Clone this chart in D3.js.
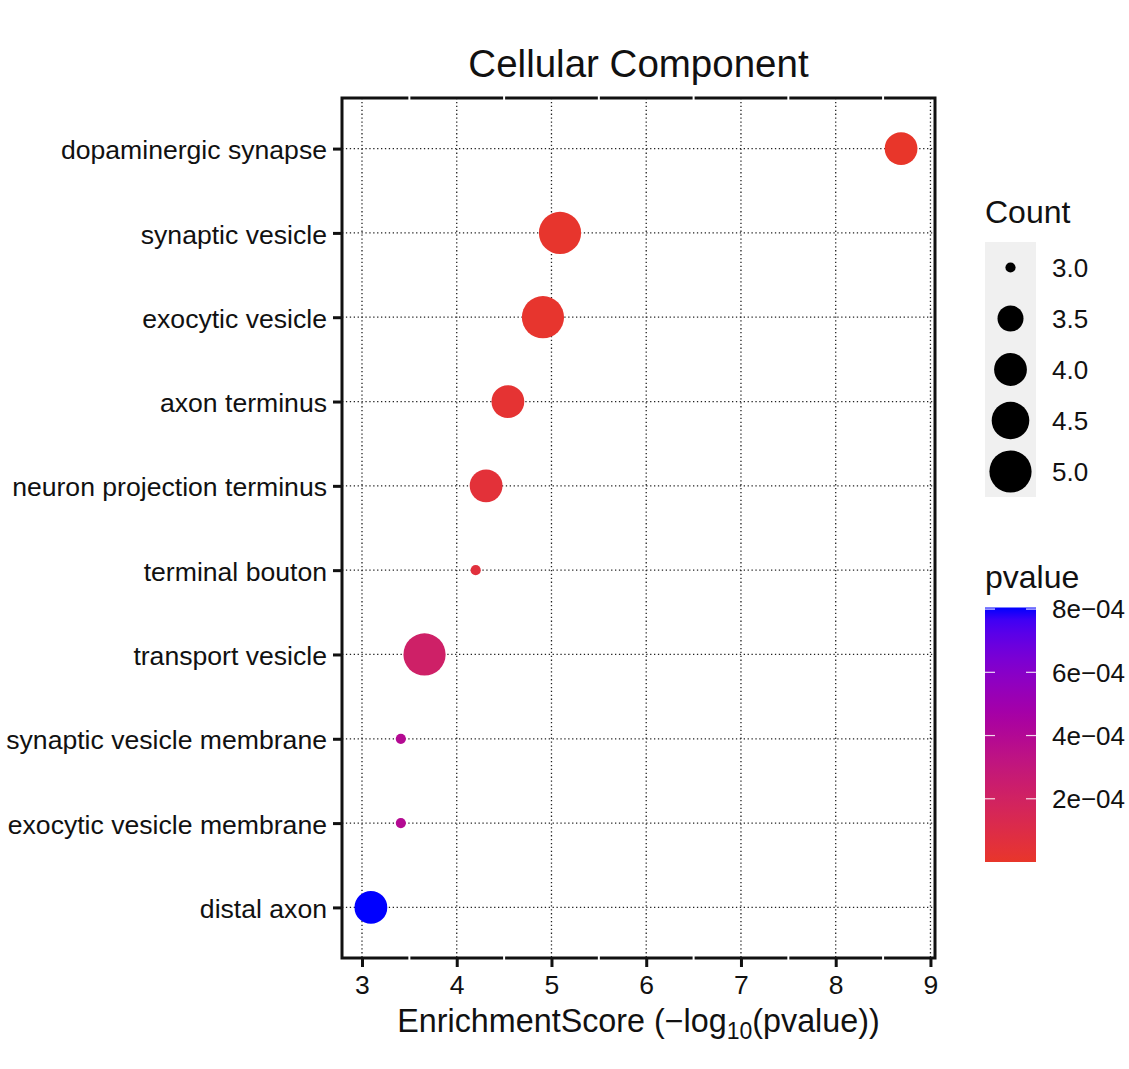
<!DOCTYPE html>
<html>
<head>
<meta charset="utf-8">
<script src="https://cdn.jsdelivr.net/npm/d3@7"></script>
<style>
  html, body { margin: 0; padding: 0; background: #fff; }
  svg { display: block; font-family: "Liberation Sans", Arial, Helvetica, sans-serif; }
</style>
</head>
<body>
<svg id="chart" width="1129" height="1069"></svg>
<script>
// ---- data ----
const terms = [
  "dopaminergic synapse",
  "synaptic vesicle",
  "exocytic vesicle",
  "axon terminus",
  "neuron projection terminus",
  "terminal bouton",
  "transport vesicle",
  "synaptic vesicle membrane",
  "exocytic vesicle membrane",
  "distal axon"
];
const enrichmentScore = [8.69, 5.09, 4.91, 4.54, 4.31, 4.20, 3.66, 3.41, 3.41, 3.094];
const pvalues = [2.0e-9, 8.1e-6, 1.2e-5, 2.9e-5, 4.9e-5, 6.3e-5, 2.2e-4, 3.9e-4, 3.9e-4, 8.05e-4];
const counts = [4, 5, 5, 4, 4, 3, 5, 3, 3, 4];

const xTicks = [3, 4, 5, 6, 7, 8, 9];
const xMinorBreaks = [3.5, 4.5, 5.5, 6.5, 7.5, 8.5];
const countBreaks = [3.0, 3.5, 4.0, 4.5, 5.0];
const countBreakLabels = ["3.0", "3.5", "4.0", "4.5", "5.0"];
const pBreaks = [2e-4, 4e-4, 6e-4, 8e-4];
const pBreakLabels = ["2e\u221204", "4e\u221204", "6e\u221204", "8e\u221204"];

const titleText = "Cellular Component";
const lowColor = "#E8362A";
const highColor = "#0000FF";

// ---- layout ----
const svg = d3.select("#chart");
const W = 1129, H = 1069;
const panel = { left: 342, right: 935, top: 98, bottom: 958 };
const ink = "#111111";

svg.append("rect").attr("width", W).attr("height", H).attr("fill", "#fff");

const x = d3.scaleLinear().domain([2.789, 9.048]).range([panel.left, panel.right]);
const y = d3.scalePoint().domain(terms).range([panel.top, panel.bottom]).padding(0.6);

const pMin = d3.min(pvalues), pMax = d3.max(pvalues);
const color = d3.scaleLinear().domain([pMin, pMax]).range([lowColor, highColor])
  .interpolate(d3.interpolateLab);
const radius = d3.scaleLinear().domain(countBreaks).range([5.1, 13, 16.4, 18.8, 21.1]);

const data = terms.map((t, i) => ({ term: t, score: enrichmentScore[i], p: pvalues[i], count: counts[i] }));

// ---- grid ----
const grid = svg.append("g").attr("class", "grid");
const dash = "1.3,2.6";
grid.selectAll("line.v").data(xTicks).join("line")
  .attr("x1", d => x(d)).attr("x2", d => x(d))
  .attr("y1", panel.top).attr("y2", panel.bottom)
  .attr("stroke", "#222").attr("stroke-width", 1.3).attr("stroke-dasharray", dash);
grid.selectAll("line.h").data(terms).join("line")
  .attr("x1", panel.left).attr("x2", panel.right)
  .attr("y1", d => y(d)).attr("y2", d => y(d))
  .attr("stroke", "#222").attr("stroke-width", 1.3).attr("stroke-dasharray", dash);

// ---- points ----
svg.append("g").selectAll("circle").data(data).join("circle")
  .attr("cx", d => x(d.score))
  .attr("cy", d => y(d.term))
  .attr("r", d => radius(d.count))
  .attr("fill", d => color(d.p));

// ---- panel border ----
svg.append("rect")
  .attr("x", panel.left).attr("y", panel.top)
  .attr("width", panel.right - panel.left).attr("height", panel.bottom - panel.top)
  .attr("fill", "none").attr("stroke", ink).attr("stroke-width", 3);
svg.append("g").selectAll("rect").data(xMinorBreaks.flatMap(b => [{ b, yy: panel.top }, { b, yy: panel.bottom }]))
  .join("rect")
  .attr("x", d => x(d.b) - 1).attr("y", d => d.yy - 2)
  .attr("width", 2).attr("height", 4).attr("fill", "#fff");

// ---- axes ----
const xAxis = d3.axisBottom(x).tickValues(xTicks).tickFormat(d3.format("d")).tickSize(9).tickPadding(6);
const gx = svg.append("g").attr("transform", `translate(0,${panel.bottom})`).call(xAxis);
gx.select(".domain").remove();
gx.selectAll(".tick line").attr("stroke", ink).attr("stroke-width", 3);
gx.selectAll(".tick text").attr("fill", ink).attr("font-size", 26.5).attr("font-family", "Liberation Sans, Arial, sans-serif").attr("dy", "0.78em");

const yAxis = d3.axisLeft(y).tickSize(9).tickPadding(6);
const gy = svg.append("g").attr("transform", `translate(${panel.left},0)`).call(yAxis);
gy.select(".domain").remove();
gy.selectAll(".tick line").attr("stroke", ink).attr("stroke-width", 3);
gy.selectAll(".tick text").attr("fill", ink).attr("font-size", 26.6).attr("dy", "0.38em")
  .attr("font-family", "Liberation Sans, Arial, sans-serif");

// ---- titles ----
svg.append("text").attr("x", (panel.left + panel.right) / 2).attr("y", 77)
  .attr("text-anchor", "middle").attr("font-size", 38.5).attr("fill", ink).text(titleText);

const xt = svg.append("text").attr("x", (panel.left + panel.right) / 2).attr("y", 1032)
  .attr("text-anchor", "middle").attr("font-size", 32.3).attr("fill", ink);
xt.append("tspan").text("EnrichmentScore (\u2212log");
xt.append("tspan").attr("font-size", 23).attr("dy", 7).text("10");
xt.append("tspan").attr("dy", -7).text("(pvalue))");

// ---- size legend ----
const lg = svg.append("g");
lg.append("text").attr("x", 985).attr("y", 223).attr("font-size", 32).attr("fill", ink).text("Count");
const keyTop = 242, keyH = 51, keyX = 985, keyW = 51;
lg.append("rect").attr("x", keyX).attr("y", keyTop).attr("width", keyW).attr("height", keyH * countBreaks.length)
  .attr("fill", "#F0F0F0");
lg.selectAll("circle").data(countBreaks).join("circle")
  .attr("cx", keyX + keyW / 2).attr("cy", (d, i) => keyTop + keyH * i + keyH / 2)
  .attr("r", d => radius(d)).attr("fill", "#000");
lg.selectAll("text.lab").data(countBreakLabels).join("text").attr("class", "lab")
  .attr("x", 1052).attr("y", (d, i) => keyTop + keyH * i + keyH / 2)
  .attr("dy", "0.36em").attr("font-size", 26).attr("fill", ink).text(d => d);

// ---- colour bar ----
const cb = svg.append("g");
cb.append("text").attr("x", 985).attr("y", 588).attr("font-size", 32).attr("fill", ink).text("pvalue");
const barTop = 607.5, barBottom = 862, barX = 985, barW = 51;
const cbScale = d3.scaleLinear().domain([pMin, pMax]).range([barBottom, barTop]);
const defs = svg.append("defs");
const grad = defs.append("linearGradient").attr("id", "pgrad")
  .attr("x1", 0).attr("y1", 1).attr("x2", 0).attr("y2", 0);
const stops = d3.range(0, 1.0001, 0.05);
grad.selectAll("stop").data(stops).join("stop")
  .attr("offset", d => d)
  .attr("stop-color", d => color(pMin + d * (pMax - pMin)));
cb.append("rect").attr("x", barX).attr("y", barTop).attr("width", barW).attr("height", barBottom - barTop)
  .attr("fill", "url(#pgrad)");
cb.selectAll("line.l").data(pBreaks).join("line")
  .attr("x1", barX).attr("x2", barX + 10)
  .attr("y1", d => cbScale(d)).attr("y2", d => cbScale(d))
  .attr("stroke", "#fff").attr("stroke-width", 1.2).attr("stroke-opacity", 0.85);
cb.selectAll("line.r").data(pBreaks).join("line")
  .attr("x1", barX + barW - 10).attr("x2", barX + barW)
  .attr("y1", d => cbScale(d)).attr("y2", d => cbScale(d))
  .attr("stroke", "#fff").attr("stroke-width", 1.2).attr("stroke-opacity", 0.85);
cb.selectAll("text.lab").data(pBreaks).join("text").attr("class", "lab")
  .attr("x", 1052).attr("y", d => cbScale(d)).attr("dy", "0.36em")
  .attr("font-size", 26).attr("fill", ink).text((d, i) => pBreakLabels[i]);
</script>
</body>
</html>
